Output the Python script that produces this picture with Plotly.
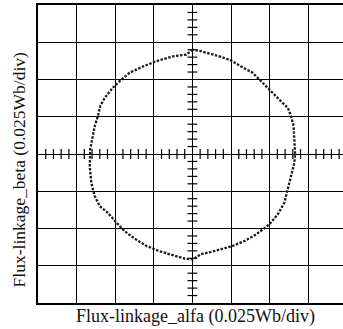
import plotly.graph_objects as go

# Traced flux-linkage locus (in divisions, 0.025 Wb/div)
flux_alfa_div = [0.01, -0.16, -0.51, -0.94, -1.28, -1.63, -1.89, -2.07, -2.27, -2.39, -2.45, -2.53, -2.59, -2.65,
                 -2.65, -2.66, -2.62, -2.53, -2.40, -2.19, -1.97, -1.76, -1.50, -1.19, -0.85, -0.51, -0.20, 0.01,
                 0.22, 0.48, 0.74, 1.04, 1.34, 1.65, 1.99, 2.21, 2.38, 2.47, 2.57, 2.64, 2.66,
                 2.64, 2.62, 2.55, 2.47, 2.29, 2.08, 1.86, 1.56, 1.26, 1.00, 0.74, 0.48, 0.22, 0.01]
flux_beta_div = [2.80, 2.67, 2.62, 2.49, 2.35, 2.18, 1.95, 1.77, 1.51, 1.28, 1.01, 0.75, 0.43, 0.12,
                 -0.01, -0.33, -0.77, -1.13, -1.40, -1.58, -1.84, -2.07, -2.27, -2.47, -2.61, -2.72, -2.81, -2.83,
                 -2.69, -2.63, -2.56, -2.47, -2.34, -2.16, -1.89, -1.62, -1.31, -0.95, -0.60, -0.24, 0.01,
                 0.39, 0.75, 1.03, 1.24, 1.42, 1.64, 1.86, 2.18, 2.35, 2.51, 2.61, 2.69, 2.76, 2.80]

x_title = "Flux-linkage_alfa (0.025Wb/div)"
y_title = "Flux-linkage_beta (0.025Wb/div)"

x_range = [-4, 3.9]
y_range = [-4, 4]
minor_step = 0.2

x_minor = [round(-4 + i * minor_step, 2) for i in range(int((x_range[1] - x_range[0]) / minor_step) + 1)]
x_minor = [v for v in x_minor if abs(v - round(v)) > 1e-6]
y_minor = [round(-4 + i * minor_step, 2) for i in range(int((y_range[1] - y_range[0]) / minor_step) + 1)]
y_minor = [v for v in y_minor if abs(v - round(v)) > 1e-6]

fig = go.Figure()

# center graticule minor ticks
fig.add_trace(go.Scatter(x=x_minor, y=[0] * len(x_minor), mode="markers",
                         marker=dict(symbol="line-ns", size=7, line=dict(width=1.2, color="black")),
                         hoverinfo="skip", showlegend=False))
fig.add_trace(go.Scatter(x=[0] * len(y_minor), y=y_minor, mode="markers",
                         marker=dict(symbol="line-ew", size=7, line=dict(width=1.2, color="black")),
                         hoverinfo="skip", showlegend=False))

# flux locus
fig.add_trace(go.Scatter(x=flux_alfa_div, y=flux_beta_div, mode="lines",
                         line=dict(color="#1a1a1a", width=2.3, dash="2.5px,1.5px"),
                         showlegend=False))

fig.update_xaxes(range=x_range, dtick=1, tick0=0, showgrid=True, gridcolor="black", gridwidth=1.3,
                 zeroline=True, zerolinecolor="black", zerolinewidth=1.3,
                 showline=True, linecolor="black", linewidth=1.6, mirror=True,
                 showticklabels=False, ticks="", fixedrange=True)
fig.update_yaxes(range=y_range, dtick=1, tick0=0, showgrid=True, gridcolor="black", gridwidth=1.3,
                 zeroline=True, zerolinecolor="black", zerolinewidth=1.3,
                 showline=True, linecolor="black", linewidth=1.6, mirror=False,
                 showticklabels=False, ticks="", fixedrange=True)

fig.update_layout(
    width=343, height=329,
    margin=dict(l=38, r=0, t=5, b=26, pad=0),
    paper_bgcolor="white", plot_bgcolor="white",
    font=dict(family="Liberation Serif, Times New Roman, serif", color="#111", size=18),
    annotations=[
        dict(text=x_title, xref="paper", yref="paper", x=0.515, y=0, yshift=-13,
             xanchor="center", yanchor="middle", showarrow=False, font=dict(size=18)),
        dict(text=y_title, xref="paper", yref="paper", x=0, xshift=-19, y=0.445,
             xanchor="center", yanchor="middle", textangle=-90, showarrow=False, font=dict(size=17.5)),
    ],
)

fig.write_html("out.html", config={"displayModeBar": False},
               post_script="document.body.style.margin='0';document.body.style.overflow='hidden';")
